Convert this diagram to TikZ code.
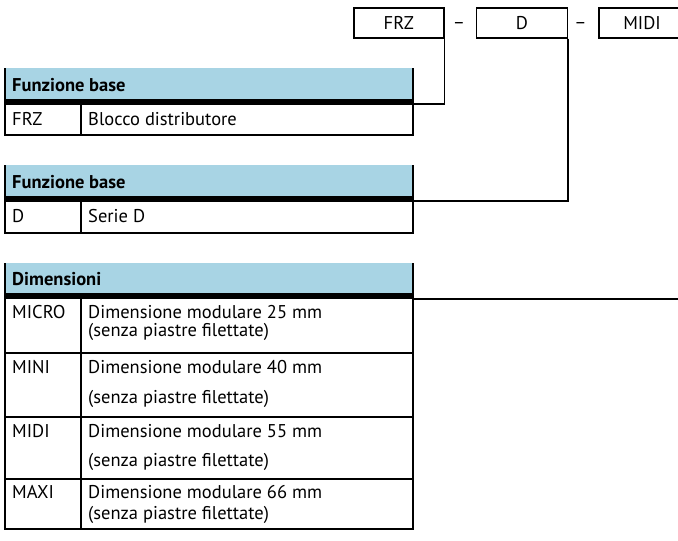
\documentclass[tikz,border=0pt]{standalone}
\usepackage{fontspec}
\setmainfont{PT Sans}
\usepackage{tikz}
\usetikzlibrary{positioning, calc}
\definecolor{hdrblue}{RGB}{168,212,228}

\begin{document}
\begin{tikzpicture}[x=1pt, y=-1pt,
  code/.style={draw, line width=1.6pt, minimum height=30pt, inner sep=0pt, font=\fontsize{18.5}{22}\selectfont},
  sep/.style={inner sep=0pt, font=\fontsize{18.5}{22}\selectfont},
  hdr_lbl/.style={anchor=base west, inner sep=0pt, font=\fontsize{18.5}{22}\selectfont\bfseries},
  cell_lbl/.style={anchor=base west, inner sep=0pt, font=\fontsize{18.5}{22}\selectfont},
  frame/.style={line width=1.8pt},
  rowrule/.style={line width=1.5pt},
  conn/.style={line width=1.6pt}
]
  \useasboundingbox (0,0) rectangle (678,541);

  % Code boxes (Top)
  \node[code, minimum width=90pt, anchor=north west] (frz) at (353,7) {FRZ};
  \node[code, minimum width=91pt, right=31pt of frz] (ser) {D};
  \node[code, minimum width=86pt, right=30pt of ser] (dim) {MIDI};
  \node[sep, right=8pt of frz, yshift=-3pt] (sep1) {–};
  \node[sep, right=6pt of ser, yshift=-3pt] (sep2) {–};

  % Funzione base: FRZ
  \fill[hdrblue] (5,68) rectangle (413,99);
  \fill (5,99) rectangle (413,105);
  \draw[frame] (5,68) -- (5,135) -- (413,135) -- (413,68);
  \draw[rowrule] (81,105) -- (81,135);
  \node[hdr_lbl] (h1) at (12,91) {Funzione base};
  \node[cell_lbl] (k1) at (12,125) {FRZ};
  \node[cell_lbl] (v1) at (88,125) {Blocco distributore};
  \coordinate (t1) at (413,104);

  % Funzione base: D
  \fill[hdrblue] (5,165) rectangle (413,196);
  \fill (5,196) rectangle (413,202);
  \draw[frame] (5,165) -- (5,233) -- (413,233) -- (413,165);
  \draw[rowrule] (81,202) -- (81,233);
  \node[hdr_lbl] (h2) at (12,188) {Funzione base};
  \node[cell_lbl] (k2) at (12,222) {D};
  \node[cell_lbl] (v2) at (88,222) {Serie D};
  \coordinate (t2) at (413,201);

  % Dimensioni
  \fill[hdrblue] (5,263) rectangle (413,293);
  \fill (5,293) rectangle (413,299);
  \draw[frame] (5,263) -- (5,529) -- (413,529) -- (413,263);
  \draw[rowrule] (81,299) -- (81,529);
  \foreach \y in {353,417,479}
    \draw[rowrule] (5,\y) -- (413,\y);
  \node[hdr_lbl] (h3) at (12,285) {Dimensioni};
  \foreach \key/\mm/\ya/\yb in {MICRO/25/318/336, MINI/40/373/403, MIDI/55/437/466, MAXI/66/498/519} {
    \node[cell_lbl] (k-\key) at (12,\ya) {\key};
    \node[cell_lbl] (v-\key) at (88,\ya) {Dimensione modulare \mm~mm};
    \node[cell_lbl] (n-\key) at (88,\yb) {(senza piastre filettate)};
  }
  \coordinate (t3) at (413,299);

  % Connectors
  \draw[conn] (frz.south east) |- (t1);
  \draw[conn] (ser.south east) |- (t2);
  \draw[conn] (dim.south east) |- (t3);
\end{tikzpicture}
\end{document}
